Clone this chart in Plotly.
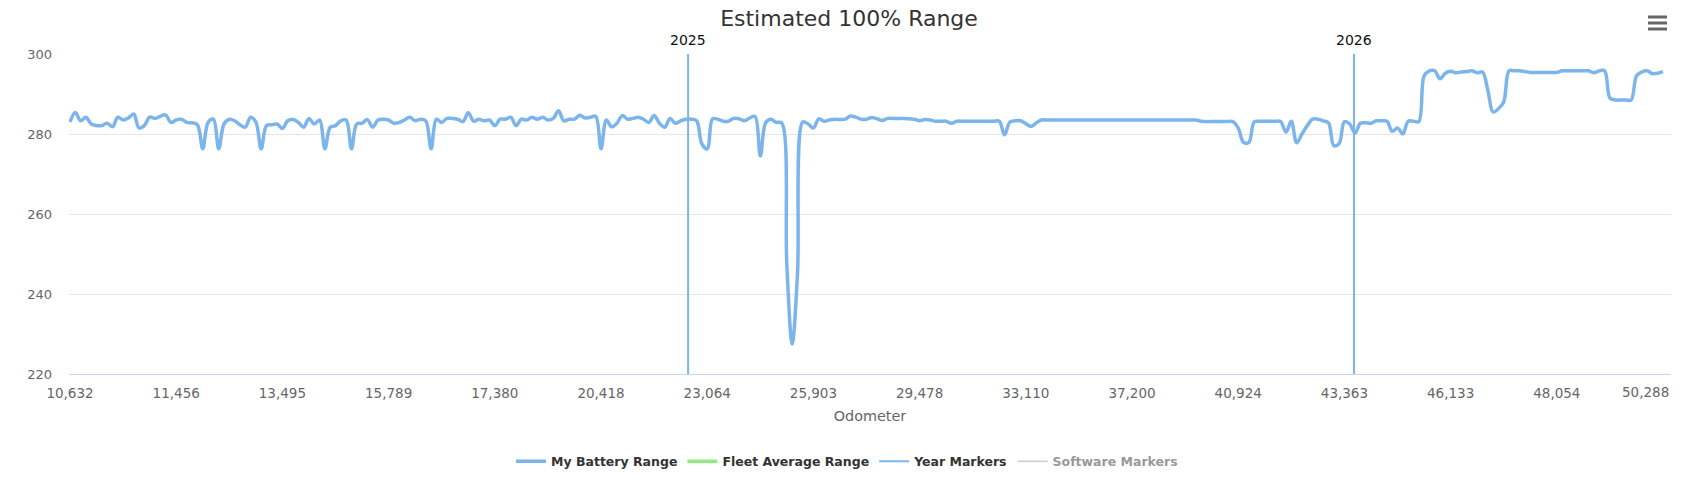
import plotly.graph_objects as go

# ---------------- data ----------------
odometer_tick_labels = ["10,632", "11,456", "13,495", "15,789", "17,380", "20,418",
                        "23,064", "25,903", "29,478", "33,110", "37,200", "40,924",
                        "43,363", "46,133", "48,054", "50,288"]
tick_every = 20  # categories between labelled ticks

battery_range = [
    283.0, 285.4, 283.3, 284.2, 282.5, 282.1, 282.1, 282.7, 281.8, 284.2,
    283.5, 284.0, 285.0, 281.5, 282.1, 284.2, 283.9, 284.4, 284.8, 282.9,
    283.5, 283.7, 282.9, 282.8, 282.3, 276.3, 282.9, 283.7, 276.3, 282.5,
    283.7, 283.3, 282.3, 281.7, 284.2, 283.0, 276.3, 282.1, 282.3, 282.5,
    281.4, 283.3, 283.6, 282.9, 281.7, 283.9, 282.5, 283.5, 276.3, 281.7,
    282.1, 283.3, 283.5, 276.3, 282.5, 282.7, 283.6, 281.7, 283.5, 283.7,
    283.5, 282.7, 282.9, 283.5, 284.2, 283.3, 283.7, 283.3, 276.3, 283.7,
    282.9, 283.9, 283.9, 283.7, 283.1, 285.3, 283.2, 283.7, 283.3, 283.5,
    282.1, 283.7, 283.7, 284.2, 282.1, 283.7, 283.5, 284.2, 283.7, 284.2,
    283.5, 283.9, 285.8, 283.3, 283.7, 283.7, 284.7, 284.0, 284.2, 284.4,
    276.3, 283.5, 281.8, 282.7, 284.6, 283.7, 283.9, 284.2, 283.7, 282.9,
    284.6, 282.7, 281.7, 283.9, 282.7, 283.3, 283.7, 283.7, 283.3, 277.5,
    276.3, 283.8, 283.7, 283.2, 283.2, 283.9, 283.8, 283.3, 284.0, 284.4,
    274.5, 282.8, 283.7, 282.9, 282.8, 247.0, 227.5, 245.0, 283.0, 282.5,
    281.5, 283.8, 283.2, 283.5, 283.7, 283.6, 283.7, 284.5, 284.2, 283.7,
    283.7, 284.1, 283.8, 283.4, 283.9, 283.9, 283.9, 283.9, 283.8, 283.7,
    283.3, 283.6, 283.5, 283.2, 283.2, 283.2, 282.7, 283.2, 283.2, 283.2,
    283.2, 283.2, 283.2, 283.2, 283.2, 283.2, 279.8, 283.0, 283.3, 283.3,
    282.6, 281.9, 282.8, 283.5, 283.5, 283.5, 283.5, 283.5, 283.5, 283.5,
    283.5, 283.5, 283.5, 283.5, 283.5, 283.5, 283.5, 283.5, 283.5, 283.5,
    283.5, 283.5, 283.5, 283.5, 283.5, 283.5, 283.5, 283.5, 283.5, 283.5,
    283.5, 283.5, 283.5, 283.2, 283.1, 283.1, 283.1, 283.1, 283.1, 283.1,
    281.5, 277.9, 277.9, 283.0, 283.2, 283.2, 283.2, 283.2, 283.1, 280.5,
    283.2, 277.8, 280.0, 282.1, 283.7, 283.7, 283.3, 282.8, 277.1, 277.6,
    283.1, 282.5, 280.2, 282.7, 282.8, 282.7, 283.3, 283.3, 283.2, 280.7,
    281.5, 280.0, 283.2, 283.2, 283.1, 294.5, 295.8, 295.8, 293.8, 295.2,
    295.7, 295.3, 295.5, 295.6, 295.8, 295.3, 295.5, 291.0, 285.5, 286.3,
    288.0, 295.8, 295.8, 295.8, 295.6, 295.4, 295.4, 295.4, 295.4, 295.4,
    295.4, 295.8, 295.8, 295.8, 295.8, 295.8, 295.8, 295.3, 295.8, 295.8,
    289.0, 288.5, 288.5, 288.5, 288.5, 294.5, 295.5, 295.8, 295.1, 295.2,
    295.6,
]
fleet_average_range = [None]   # series present but without values in view
software_markers = [None]      # hidden series
year_marker_positions = [116.4, 241.8]   # category position of each new year
year_marker_labels = ["2025", "2026"]

y_min, y_max, y_step = 220, 300, 20

# ---------------- figure ----------------
FONT = "DejaVu Sans"
BLUE = "#7cb5ec"

x_idx = list(range(len(battery_range)))
tick_vals = [i * tick_every for i in range(len(odometer_tick_labels))]

yr_x, yr_y = [], []
for p in year_marker_positions:
    yr_x += [p, p, None]
    yr_y += [y_min, y_max, None]

fig = go.Figure()
fig.add_trace(go.Scatter(x=yr_x, y=yr_y, mode="lines", name="Year Markers",
                         line=dict(color=BLUE, width=2), legendrank=3,
                         hoverinfo="skip"))
fig.add_trace(go.Scatter(x=x_idx, y=battery_range, mode="lines",
                         name="My Battery Range",
                         line=dict(color=BLUE, width=3.5, shape="spline", smoothing=1),
                         legendrank=1))
fig.add_trace(go.Scatter(x=[0], y=fleet_average_range, mode="lines",
                         name="Fleet Average Range", showlegend=True,
                         line=dict(color="#90ed7d", width=3.5), legendrank=2))
fig.add_trace(go.Scatter(x=[0], y=software_markers, mode="lines",
                         name="Software Markers", visible="legendonly", showlegend=True,
                         line=dict(color="#999999", width=1.5), legendrank=4))

annotations = []
for p, lab in zip(year_marker_positions, year_marker_labels):
    annotations.append(dict(x=p, y=(374 - 40) / 320, xref="x", yref="paper",
                            text=lab, showarrow=False, xanchor="center",
                            yanchor="middle",
                            font=dict(family=FONT, size=14, color="#111111")))
# last category label, justified inside the chart like the original
annotations.append(dict(x=1, y=-(392 - 374) / 320, xref="paper", yref="paper",
                        text=odometer_tick_labels[-1], showarrow=False,
                        xanchor="right", yanchor="middle",
                        font=dict(family=FONT, size=13.5, color="#666666")))

shapes = []
for py in (17, 23, 29):
    yp = (374 - py) / 320
    shapes.append(dict(type="line", xref="paper", yref="paper",
                       x0=(1648 - 69) / 1602, x1=(1667 - 69) / 1602, y0=yp, y1=yp,
                       line=dict(color="#666666", width=3)))

fig.update_layout(
    width=1685, height=482,
    margin=dict(l=69, r=14, t=54, b=108),
    paper_bgcolor="white", plot_bgcolor="white",
    font=dict(family=FONT, color="#666666"),
    title=dict(text="Estimated 100% Range", x=849 / 1685, xref="container",
               xanchor="center", y=1 - 18.5 / 482, yref="container",
               yanchor="middle", font=dict(family=FONT, size=22, color="#333333")),
    showlegend=True,
    legend=dict(orientation="h", x=847 / 1685, xref="container", xanchor="center",
                y=1 - 461.7 / 482, yref="container", yanchor="middle",
                font=dict(family=FONT, size=12.5, color="#333333", weight="bold"),
                traceorder="normal"),
    xaxis=dict(range=[-0.19, 301.5], tickmode="array", tickvals=tick_vals[:-1],
               ticktext=odometer_tick_labels[:-1], showgrid=False, zeroline=False,
               showline=True, linecolor="#ccd6eb", linewidth=1, ticks="",
               tickfont=dict(family=FONT, size=13.5, color="#666666"),
               ticklabelstandoff=7,
               title=dict(text="Odometer", standoff=10,
                          font=dict(family=FONT, size=14.4, color="#666666"))),
    yaxis=dict(range=[y_min, y_max], tick0=y_min, dtick=y_step, showgrid=True,
               gridcolor="#e6e6e6", gridwidth=1, zeroline=False, showline=False,
               ticks="", tickfont=dict(family=FONT, size=13, color="#666666"),
               ticklabelstandoff=16),
    annotations=annotations,
    shapes=shapes,
    hovermode=False,
)

fig.write_html("out.html", config={"displayModeBar": False})
